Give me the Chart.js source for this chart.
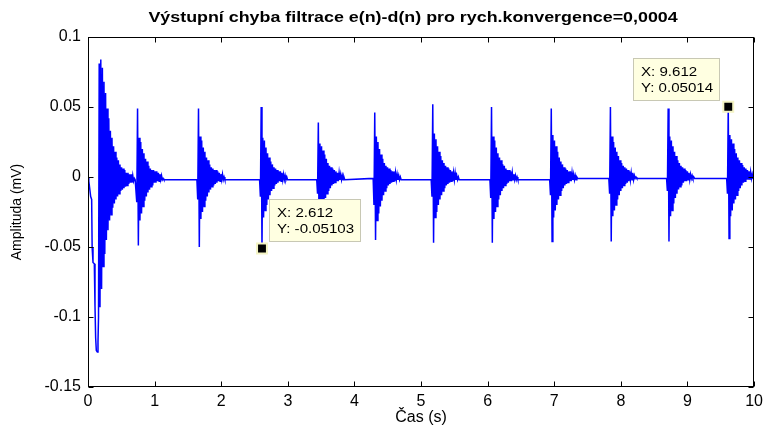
<!DOCTYPE html>
<html>
<head>
<meta charset="utf-8">
<title>Výstupní chyba filtrace</title>
<script src="https://cdn.jsdelivr.net/npm/chart.js@4.4.1/dist/chart.umd.min.js"></script>
<style>
  html, body { margin: 0; padding: 0; background: #fff; }
</style>
</head>
<body>
<canvas id="errChart" width="768" height="427"></canvas>
<script>
const TITLE = 'Výstupní chyba filtrace e(n)-d(n) pro rych.konvergence=0,0004';
const FONT = 'Arial, "Liberation Sans", Helvetica, sans-serif';

const X_TICKS = [0, 1, 2, 3, 4, 5, 6, 7, 8, 9, 10];
const Y_TICKS = [-0.15, -0.1, -0.05, 0, 0.05, 0.1];

// start-up transient before the filter settles
const leadTimes  = [0, 0.012, 0.025, 0.04, 0.055, 0.062, 0.075, 0.095, 0.105, 0.115, 0.125, 0.14, 0.15, 0.158];
const leadValues = [0, -0.003, -0.008, -0.014, -0.016, -0.05, -0.061, -0.062, -0.092, -0.115, -0.124, -0.125, -0.118, -0.1];

// each burst: consecutive samples, SAMPLE_STEP apart, from its start time
const SAMPLE_STEP = 0.012;
const burstStarts = [0.168, 0.72, 1.635, 2.576, 3.434, 4.281, 5.152, 6.034, 6.931, 7.819, 8.686, 9.588];

const burst00 = [0.081, -0.093, 0.084, -0.080, 0.078, -0.064, 0.068, -0.055, 0.060, -0.045, 0.049, -0.038, 0.042, -0.031, 0.033, -0.027,
  0.028, -0.022, 0.022, -0.019, 0.018, -0.016, 0.014, -0.014, 0.012, -0.012, 0.009, -0.010, 0.007, -0.009, 0.006, -0.008,
  0.005, -0.007, 0.003, -0.006, 0.003, -0.005, 0.002, -0.004, 0.002, -0.004, 0.001, -0.003, -0.001, -0.002];
const burst01 = [-0.002, -0.018, 0.049, -0.049, 0.028, -0.031, 0.025, -0.026, 0.020, -0.021, 0.017, -0.017, 0.013, -0.014, 0.011, -0.011,
  0.008, -0.009, 0.006, -0.007, 0.005, -0.006, 0.005, -0.004, 0.004, -0.004, 0.004, -0.003, 0.003, -0.003, 0.002, -0.002, 0.001, -0.002, -0.001, -0.002];
const burst02 = [-0.002, -0.016, 0.049, -0.050, 0.029, -0.030, 0.026, -0.025, 0.021, -0.021, 0.018, -0.017, 0.014, -0.014, 0.012, -0.011,
  0.009, -0.009, 0.007, -0.007, 0.006, -0.006, 0.005, -0.005, 0.005, -0.004, 0.004, -0.003, 0.003, -0.003, 0.002, -0.002, 0.002, -0.002, 0.000, -0.002];
const burst03 = [-0.002, -0.014, 0.050, -0.05103, 0.028, -0.029, 0.026, -0.024, 0.021, -0.020, 0.017, -0.016, 0.014, -0.013, 0.011, -0.010,
  0.009, -0.008, 0.007, -0.006, 0.006, -0.005, 0.005, -0.004, 0.004, -0.003, 0.004, -0.003, 0.003, -0.002, 0.002, -0.002, 0.001, -0.002, 0.000, -0.002];
const burst04 = [-0.002, -0.012, 0.039, -0.045, 0.024, -0.027, 0.022, -0.023, 0.019, -0.019, 0.016, -0.015, 0.013, -0.012, 0.010, -0.010,
  0.008, -0.008, 0.007, -0.006, 0.006, -0.005, 0.005, -0.004, 0.004, -0.003, 0.003, -0.003, 0.003, -0.002, 0.002, -0.002, 0.001, -0.002, 0.000, -0.002];
const burst05 = [-0.001, -0.020, 0.046, -0.045, 0.029, -0.031, 0.025, -0.026, 0.020, -0.021, 0.016, -0.017, 0.013, -0.013, 0.010, -0.010,
  0.008, -0.008, 0.007, -0.006, 0.006, -0.005, 0.005, -0.004, 0.004, -0.003, 0.004, -0.003, 0.003, -0.002, 0.002, -0.002, 0.001, -0.002, 0.000, -0.002];
const burst06 = [-0.002, -0.014, 0.052, -0.047, 0.031, -0.029, 0.027, -0.025, 0.022, -0.020, 0.018, -0.016, 0.015, -0.013, 0.012, -0.010,
  0.010, -0.008, 0.008, -0.006, 0.007, -0.005, 0.006, -0.004, 0.005, -0.003, 0.004, -0.003, 0.003, -0.002, 0.003, -0.002, 0.001, -0.002, 0.000, -0.002];
const burst07 = [-0.002, -0.015, 0.050, -0.047, 0.029, -0.030, 0.026, -0.025, 0.021, -0.021, 0.017, -0.016, 0.014, -0.013, 0.012, -0.010,
  0.009, -0.008, 0.008, -0.006, 0.006, -0.005, 0.005, -0.004, 0.005, -0.003, 0.004, -0.003, 0.003, -0.002, 0.002, -0.002, 0.001, -0.002, 0.000, -0.002];
const burst08 = [-0.002, -0.013, 0.049, -0.046, 0.030, -0.029, 0.026, -0.024, 0.022, -0.020, 0.018, -0.016, 0.014, -0.013, 0.011, -0.010,
  0.009, -0.008, 0.007, -0.006, 0.006, -0.005, 0.005, -0.004, 0.004, -0.003, 0.004, -0.003, 0.003, -0.002, 0.002, -0.002, 0.001, -0.002, 0.000, -0.001];
const burst09 = [-0.001, -0.012, 0.050, -0.046, 0.029, -0.028, 0.025, -0.024, 0.021, -0.020, 0.018, -0.016, 0.015, -0.013, 0.012, -0.010,
  0.010, -0.008, 0.008, -0.006, 0.007, -0.005, 0.006, -0.004, 0.005, -0.003, 0.004, -0.002, 0.003, -0.002, 0.003, -0.002, 0.001, -0.001, 0.000, -0.001];
const burst10 = [-0.001, -0.010, 0.049, -0.046, 0.029, -0.028, 0.026, -0.024, 0.022, -0.019, 0.018, -0.015, 0.015, -0.012, 0.012, -0.009,
  0.010, -0.007, 0.008, -0.006, 0.007, -0.004, 0.006, -0.003, 0.005, -0.003, 0.004, -0.002, 0.003, -0.002, 0.002, -0.001, 0.001, -0.001, 0.000, -0.001];
const burst11 = [-0.001, -0.012, 0.05014, -0.044, 0.030, -0.028, 0.027, -0.024, 0.024, -0.019, 0.020, -0.016, 0.017, -0.013, 0.014, -0.010,
  0.012, -0.008, 0.010, -0.006, 0.0085, -0.004, 0.007, -0.003, 0.006, -0.002, 0.005, -0.002, 0.004, -0.002, 0.0035, -0.001, 0.002, -0.001, 0.001, -0.001];

const burstValues = [burst00, burst01, burst02, burst03, burst04, burst05, burst06, burst07, burst08, burst09, burst10, burst11];

// data cursor readouts
const tipX = [2.612, 9.612];
const tipY = [-0.05103, 0.05014];

function buildSignal() {
  const pts = leadTimes.map((t, i) => ({ x: t, y: leadValues[i] }));
  burstStarts.forEach((t0, b) => {
    burstValues[b].forEach((v, k) => {
      pts.push({ x: +(t0 + k * SAMPLE_STEP).toFixed(4), y: v });
    });
  });
  return pts;
}

function formatTick(v) {
  return String(+Number(v).toFixed(2));
}

// text drawn a bit wider than the font's natural width
function wideText(ctx, text, x, y, stretch) {
  ctx.save();
  ctx.translate(x, y);
  ctx.scale(stretch, 1);
  ctx.fillText(text, 0, 0);
  ctx.restore();
}

// title over the axes, black frame and inward ticks on all four sides
const axesFrame = {
  id: 'axesFrame',
  afterDraw(chart) {
    const { ctx, chartArea: a, scales } = chart;
    const L = Math.round(a.left) + 0.5;
    const R = Math.round(a.right) - 0.5;
    const T = Math.round(a.top) + 0.5;
    const B = Math.round(a.bottom) - 0.5;
    ctx.save();
    ctx.strokeStyle = '#000';
    ctx.lineWidth = 1;
    ctx.strokeRect(L, T, R - L, B - T);
    ctx.beginPath();
    X_TICKS.forEach(v => {
      const p = Math.round(scales.x.getPixelForValue(v)) + 0.5;
      ctx.moveTo(p, B); ctx.lineTo(p, B - 5);
      ctx.moveTo(p, T); ctx.lineTo(p, T + 5);
    });
    Y_TICKS.forEach(v => {
      const p = Math.round(scales.y.getPixelForValue(v)) + 0.5;
      ctx.moveTo(L, p); ctx.lineTo(L + 5, p);
      ctx.moveTo(R, p); ctx.lineTo(R - 5, p);
    });
    ctx.stroke();

    ctx.fillStyle = '#000';
    ctx.font = 'bold 15px ' + FONT;
    ctx.textAlign = 'center';
    ctx.textBaseline = 'middle';
    wideText(ctx, TITLE, (a.left + a.right) / 2 - 8, 18, 1.19);
    ctx.restore();
  }
};

// yellow data-tip boxes next to the cursor markers
const dataTips = {
  id: 'dataTips',
  afterDatasetsDraw(chart) {
    const { ctx, scales } = chart;
    const place = ['right', 'left'];
    const stretch = 1.16;
    ctx.save();
    ctx.font = '13px ' + FONT;
    tipX.forEach((tx, i) => {
      const px = scales.x.getPixelForValue(tx);
      const py = scales.y.getPixelForValue(tipY[i]);
      const lines = ['X: ' + tx, 'Y: ' + tipY[i]];
      const w = Math.round(Math.max(...lines.map(s => ctx.measureText(s).width)) * stretch + 15);
      const h = 43;
      const left = Math.round(place[i] === 'right' ? px + 7 : px - 8 - w);
      const top = Math.round(py - 49);
      ctx.fillStyle = '#ffffe1';
      ctx.fillRect(left, top, w, h);
      ctx.strokeStyle = '#c8c8b4';
      ctx.lineWidth = 1;
      ctx.strokeRect(left + 0.5, top + 0.5, w - 1, h - 1);
      ctx.fillStyle = '#000';
      ctx.textAlign = 'left';
      ctx.textBaseline = 'middle';
      wideText(ctx, lines[0], left + 8, top + 14, stretch);
      wideText(ctx, lines[1], left + 8, top + 30, stretch);
    });
    ctx.restore();
  }
};

function initChart() {
  const ctx = document.getElementById('errChart').getContext('2d');
  new Chart(ctx, {
    type: 'line',
    data: {
      datasets: [
        {
          label: 'cursor',
          data: tipX.map((x, i) => ({ x: x, y: tipY[i] })),
          showLine: false,
          pointStyle: 'rect',
          pointRadius: 7,
          backgroundColor: '#000',
          borderColor: '#f4f4c4',
          borderWidth: 2,
          order: 0
        },
        {
          label: 'e(n)-d(n)',
          data: buildSignal(),
          borderColor: '#0000ff',
          borderWidth: 1.5,
          pointRadius: 0,
          tension: 0,
          fill: false,
          order: 1
        }
      ]
    },
    options: {
      responsive: false,
      animation: false,
      events: [],
      layout: { padding: { top: 37, right: 11, left: 0, bottom: 0 } },
      plugins: {
        legend: { display: false },
        tooltip: { enabled: false },
        title: { display: false }
      },
      scales: {
        x: {
          type: 'linear',
          min: 0,
          max: 10,
          afterBuildTicks: s => { s.ticks = X_TICKS.map(v => ({ value: v })); },
          ticks: { color: '#000', font: { family: FONT, size: 16 }, padding: 5, maxRotation: 0, autoSkip: false },
          grid: { display: false, drawTicks: false },
          border: { display: false },
          title: { display: true, text: 'Čas (s)', color: '#000', font: { family: FONT, size: 16 }, padding: { top: 0, bottom: 0 } },
          afterFit: s => { s.height = 40; }
        },
        y: {
          type: 'linear',
          min: -0.15,
          max: 0.1,
          afterBuildTicks: s => { s.ticks = Y_TICKS.map(v => ({ value: v })); },
          ticks: { color: '#000', font: { family: FONT, size: 16 }, padding: 7, callback: formatTick },
          grid: { display: false, drawTicks: false },
          border: { display: false },
          title: { display: true, text: 'Amplituda (mV)', color: '#000', font: { family: FONT, size: 14 }, padding: { top: 9, bottom: 0 } },
          afterFit: s => { s.width = 88; }
        }
      }
    },
    plugins: [dataTips, axesFrame]
  });
}

initChart();
</script>
</body>
</html>
